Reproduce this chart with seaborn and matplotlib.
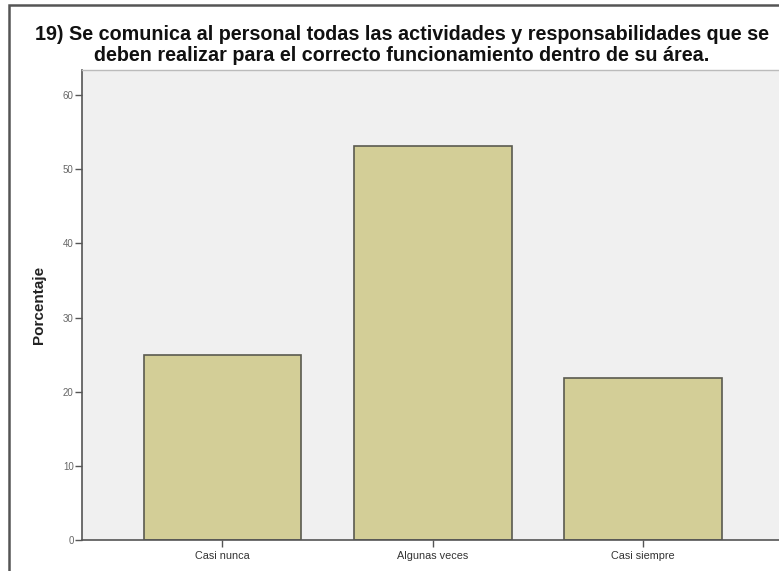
import matplotlib
matplotlib.use("Agg")
import matplotlib.pyplot as plt
import seaborn as sns
import pandas as pd
from matplotlib.patches import Rectangle

categories = ["Casi nunca", "Algunas veces", "Casi siempre"]
values = [25.0, 53.1, 21.9]
yticks = [0, 10, 20, 30, 40, 50, 60]
title = ("19) Se comunica al personal todas las actividades y responsabilidades que se\n"
         "deben realizar para el correcto funcionamiento dentro de su área.")
ylabel = "Porcentaje"

sns.set_theme(style="white")
plt.rcParams['font.family'] = ['Liberation Sans', 'DejaVu Sans']

df = pd.DataFrame({"cat": categories, "pct": values})

W, H = 779, 571
fig = plt.figure(figsize=(W / 100, H / 100), dpi=100)
fig.patch.set_facecolor("white")

ax = fig.add_axes([82 / W, 1 - 540 / H, (W - 82) / W, (540 - 70) / H])
ax.set_facecolor("#f0f0f0")

sns.barplot(data=df, x="cat", y="pct", ax=ax, color="#d3ce97",
            saturation=1, width=0.75, edgecolor="#5a5a50", linewidth=1.2)

ax.set_ylim(0, 63.4)
ax.set_xlim(-0.668, 2.647)
ax.set_yticks(yticks)
ax.set_yticklabels([str(v) for v in yticks], fontsize=7, color="#666666")
ax.tick_params(axis="y", length=5, width=1, color="#555555", pad=1, left=True)
ax.tick_params(axis="x", length=5, width=1, color="#555555", pad=3, bottom=True,
               labelsize=7.8, labelcolor="#333333")
ax.set_xlabel("")
ax.set_ylabel(ylabel, fontsize=11, fontweight="bold", color="#222222", labelpad=12)

for s in ["left", "bottom"]:
    ax.spines[s].set_color("#555555")
    ax.spines[s].set_linewidth(1.2)
ax.spines["top"].set_color("#bbbbbb")
ax.spines["top"].set_linewidth(1.0)
ax.spines["right"].set_visible(False)

fig.text(402 / W, 1 - 45 / H, title, ha="center", va="center", fontsize=14.2,
         fontweight="bold", color="#111111", linespacing=1.1)

# outer frame
fig.add_artist(Rectangle((9 / W, -0.05), 1.2, 1 - 5 / H + 0.05, transform=fig.transFigure,
                         fill=False, edgecolor="#555555", linewidth=1.8))

fig.savefig("out.png", dpi=100)
